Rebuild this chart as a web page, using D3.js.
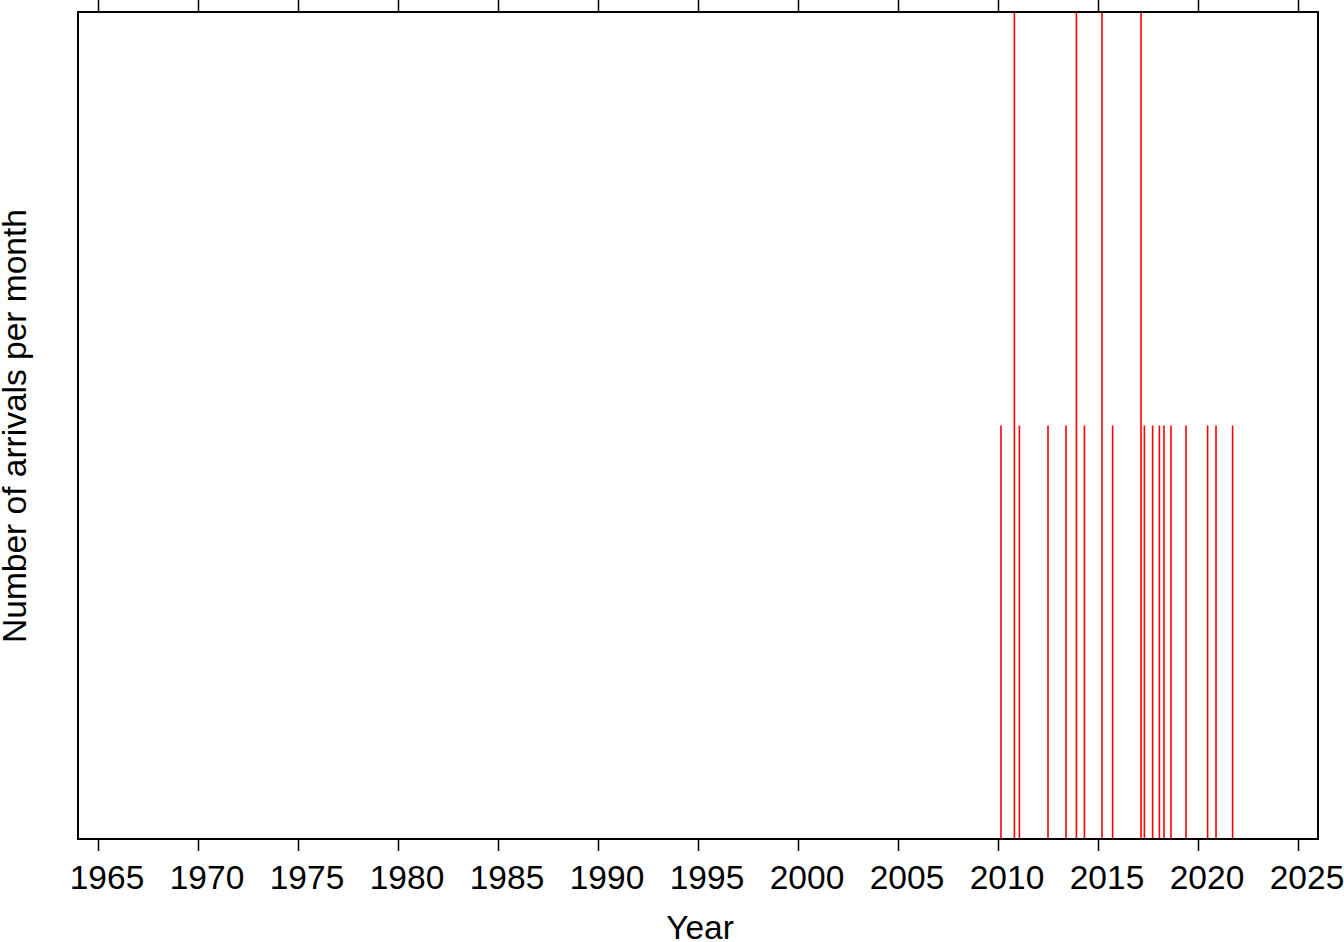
<!DOCTYPE html>
<html>
<head>
<meta charset="utf-8">
<script src="https://cdn.jsdelivr.net/npm/d3@7"></script>
<style>
html,body{margin:0;padding:0;background:#fff;}
svg{display:block;}
text{font-family:"Liberation Sans",Arial,Helvetica,sans-serif;fill:#000;}
</style>
</head>
<body>
<svg id="chart" width="1344" height="942"></svg>
<script>
// Arrival months (decimal year) and number of arrivals in that month
const arrivalMonths = [2010.15, 2010.82, 2011.07, 2012.5, 2013.4, 2013.92, 2014.32, 2015.2, 2015.73,
  2017.15, 2017.32, 2017.73, 2018.07, 2018.3, 2018.65, 2019.4, 2020.48, 2020.9, 2021.73];
const arrivalCounts = [1, 2, 1, 1, 1, 2, 1, 2, 1,
  2, 1, 1, 1, 1, 1, 1, 1, 1, 1];
const xTickYears = [1965, 1970, 1975, 1980, 1985, 1990, 1995, 2000, 2005, 2010, 2015, 2020, 2025];
const xDomain = [1964.0, 2026.0];
const yDomain = [0, 2];

const svg = d3.select("#chart");
const L = 78, R = 1318, T = 12, B = 839;
const FS = 33.5;

const x = d3.scaleLinear().domain(xDomain).range([L, R]);
const y = d3.scaleLinear().domain(yDomain).range([B, T]);

// bars (vertical lines)
svg.append("g").selectAll("line").data(arrivalMonths).join("line")
  .attr("x1", d => x(d)).attr("x2", d => x(d))
  .attr("y1", y(0)).attr("y2", (d, i) => y(arrivalCounts[i]))
  .attr("stroke", "#ff0000").attr("stroke-width", 1.6);

// bottom axis
const xAxisB = d3.axisBottom(x).tickValues(xTickYears).tickFormat(d3.format("d")).tickSize(12).tickPadding(0);
const gB = svg.append("g").attr("transform", `translate(0,${B})`).call(xAxisB);
gB.select(".domain").remove();
gB.selectAll(".tick line").attr("stroke", "#000").attr("stroke-width", 1.5);
gB.selectAll(".tick text").attr("font-size", FS).attr("font-family", "Liberation Sans, Arial, sans-serif")
  .attr("y", 50).attr("dy", null).attr("dx", 8.5);

// top axis (ticks only)
const xAxisT = d3.axisTop(x).tickValues(xTickYears).tickFormat("").tickSize(12);
const gT = svg.append("g").attr("transform", `translate(0,${T})`).call(xAxisT);
gT.select(".domain").remove();
gT.selectAll(".tick line").attr("stroke", "#000").attr("stroke-width", 1.5);

// frame
svg.append("rect").attr("x", L).attr("y", T).attr("width", R - L).attr("height", B - T)
  .attr("fill", "none").attr("stroke", "#000").attr("stroke-width", 2);

// axis titles
svg.append("text").attr("x", 700).attr("y", 939).attr("text-anchor", "middle")
  .attr("font-size", FS).text("Year");
svg.append("text").attr("transform", `translate(25.5,426) rotate(-90)`)
  .attr("text-anchor", "middle").attr("font-size", FS).text("Number of arrivals per month");
</script>
</body>
</html>
